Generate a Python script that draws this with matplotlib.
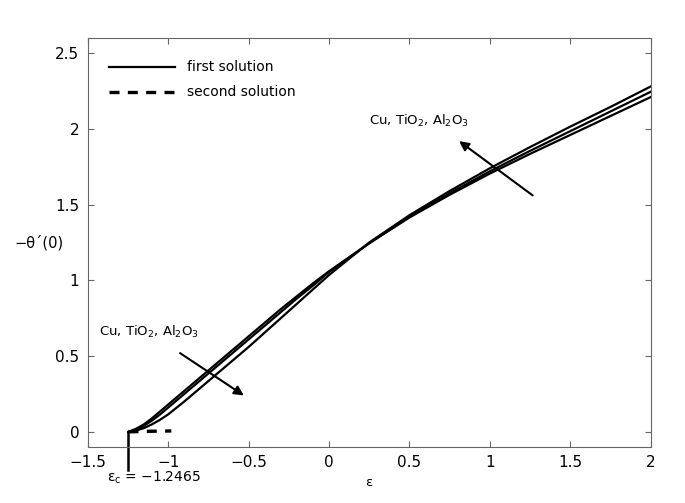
import numpy as np
import matplotlib
matplotlib.use('Agg')
import matplotlib.pyplot as plt

plt.rcParams['font.family'] = ['DejaVu Sans']
plt.rcParams['mathtext.fontset'] = 'dejavusans'

# epsilon values and -theta'(0) (first solution)
eps = [-1.2465, -1.2, -1.15, -1.1, -1.05, -1.0, -0.9, -0.8, -0.7, -0.6,
       -0.5, -0.4, -0.3, -0.2, -0.1, 0.0, 0.25, 0.5, 0.75, 1.0, 1.25,
       1.5, 1.75, 2.0]
cu = [0, 0.02, 0.05, 0.09, 0.135, 0.18, 0.27, 0.36, 0.45, 0.54,
      0.63, 0.72, 0.81, 0.895, 0.98, 1.06, 1.245, 1.415, 1.565, 1.705, 1.835,
      1.96, 2.085, 2.21]
tio2 = [0, 0.015, 0.04, 0.075, 0.115, 0.16, 0.25, 0.34, 0.43, 0.52,
        0.61, 0.70, 0.79, 0.88, 0.965, 1.055, 1.245, 1.42, 1.575, 1.72, 1.855,
        1.985, 2.115, 2.245]
al2o3 = [0, 0.008, 0.025, 0.05, 0.08, 0.115, 0.20, 0.29, 0.38, 0.47,
         0.56, 0.655, 0.75, 0.845, 0.94, 1.035, 1.25, 1.43, 1.59, 1.74, 1.88,
         2.015, 2.145, 2.28]

# second solution (short branch near zero)
eps2 = [-1.2465, -1.15, -1.05, -0.98]
sec = [0, 0.003, 0.005, 0.006]

eps_c = -1.2465

fig = plt.figure(figsize=(6.85, 5.03), dpi=100)
ax = fig.add_axes([0.128, 0.1113, 0.822, 0.8132])

ax.plot(eps, cu, color='black', lw=1.6)
ax.plot(eps, tio2, color='black', lw=1.6)
ax.plot(eps, al2o3, color='black', lw=1.6)
ax.plot(eps2, sec, color='black', lw=2.4, ls=(0, (3, 2.5)))

# epsilon_c marker
ax.plot([eps_c, eps_c], [0, -0.25], color='black', lw=1.8, clip_on=False)
ax.text(-1.09, -0.30, '\u03b5$_\\mathrm{c}$ = \u22121.2465', fontsize=10,
        ha='center', va='center')

# legend drawn by hand (matlab style)
ax.plot([-1.37, -0.96], [2.41, 2.41], color='black', lw=1.6)
ax.plot([-1.37, -0.96], [2.245, 2.245], color='black', lw=2.4, ls=(0, (3, 2.5)))
ax.text(-0.88, 2.41, 'first solution', fontsize=10, va='center')
ax.text(-0.88, 2.245, 'second solution', fontsize=10, va='center')

ax.annotate('', xy=(-0.515, 0.23), xytext=(-0.94, 0.53),
            arrowprops=dict(arrowstyle='-|>', color='black', lw=1.5,
                            mutation_scale=14))
ax.text(-1.43, 0.66, r'Cu, TiO$_2$, Al$_2$O$_3$', fontsize=9.5, va='center')

ax.annotate('', xy=(0.795, 1.93), xytext=(1.28, 1.55),
            arrowprops=dict(arrowstyle='-|>', color='black', lw=1.5,
                            mutation_scale=14))
ax.text(0.25, 2.05, r'Cu, TiO$_2$, Al$_2$O$_3$', fontsize=9.5, va='center')

ax.set_xlim(-1.5, 2)
ax.set_ylim(-0.1, 2.6)
ax.set_xticks([-1.5, -1, -0.5, 0, 0.5, 1, 1.5, 2])
ax.set_xticklabels(['\u22121.5', '\u22121', '\u22120.5', '0', '0.5', '1', '1.5', '2'])
ax.set_yticks([0, 0.5, 1, 1.5, 2, 2.5])
ax.set_yticklabels(['0', '0.5', '1', '1.5', '2', '2.5'])
ax.tick_params(direction='in', top=True, right=True, labelsize=11,
               color='#666666', length=4, pad=6)
for s in ax.spines.values():
    s.set_color('#666666')

ax.set_xlabel('\u03b5', fontsize=9.5, labelpad=4)
ax.set_ylabel('\u2212\u03b8\u00b4(0)', fontsize=10.5, rotation=0, va='center',
              labelpad=12)

fig.savefig('out.png', dpi=100)
